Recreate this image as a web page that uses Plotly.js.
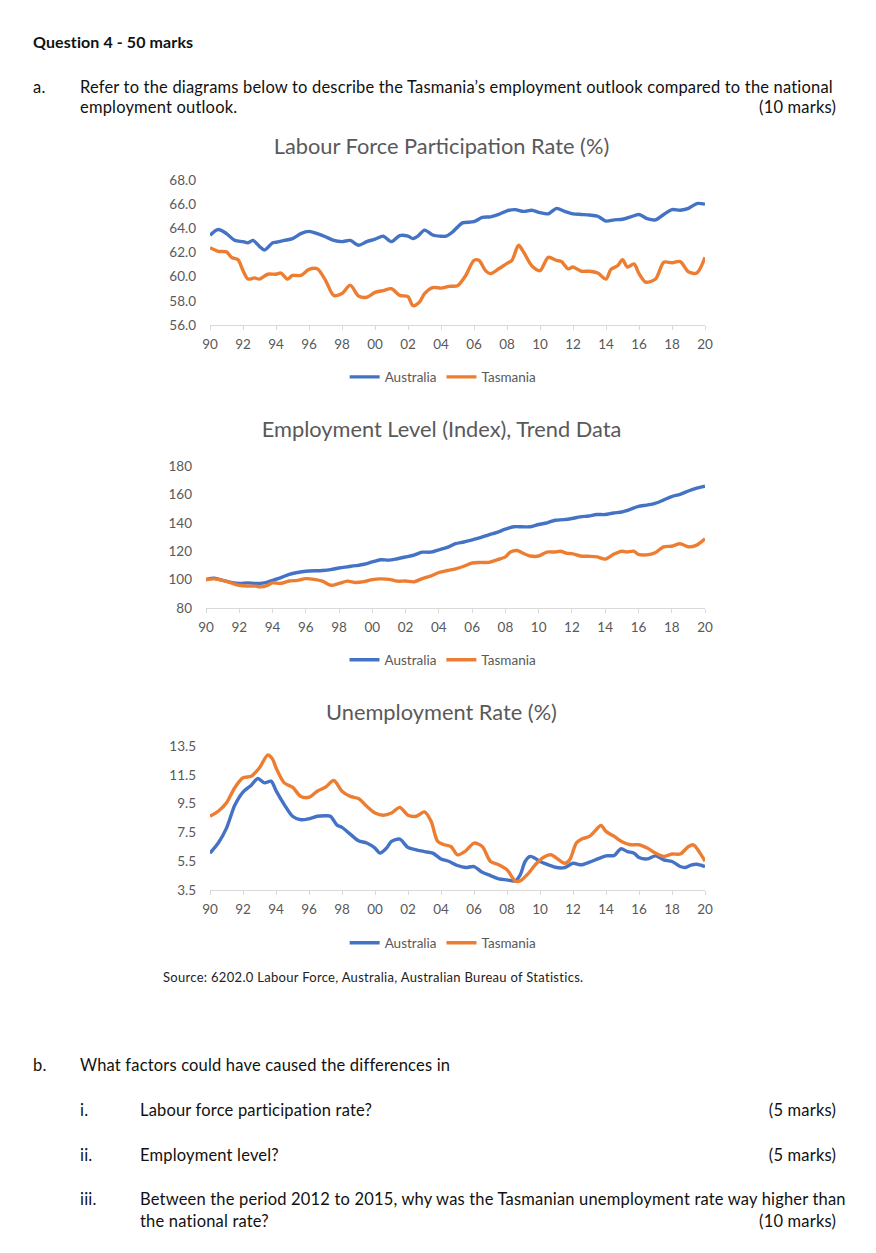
<!DOCTYPE html>
<html>
<head>
<meta charset="utf-8">
<script src="https://cdn.plot.ly/plotly-3.0.1.min.js"></script>
<style>
  html, body { margin:0; padding:0; background:#fff; }
  body { width:876px; height:1253px; position:relative; overflow:hidden; font-family: Lato, "Open Sans", sans-serif; color:#111; }
  .t { position:absolute; font-size:16.5px; letter-spacing:0.18px; line-height:20px; white-space:nowrap; }
  .r { text-align:right; }
  .chart { position:absolute; left:0; width:876px; }
</style>
</head>
<body>
<div class="t" style="left:33px; top:32px; font-weight:bold; font-size:16px; letter-spacing:0.1px;">Question 4 - 50 marks</div>
<div class="t" style="left:33px; top:77px;">a.</div>
<div class="t" style="left:80px; top:77px;">Refer to the diagrams below to describe the Tasmania’s employment outlook compared to the national</div>
<div class="t" style="left:80px; top:97px;">employment outlook.</div>
<div class="t r" style="right:40px; top:97px;">(10 marks)</div>

<div id="c1" class="chart" style="top:120px; height:280px;"></div>
<div id="c2" class="chart" style="top:400px; height:290px;"></div>
<div id="c3" class="chart" style="top:690px; height:270px;"></div>

<div class="t" style="left:163px; top:967px; font-size:13px; letter-spacing:0.3px; color:#222;">Source: 6202.0 Labour Force, Australia, Australian Bureau of Statistics.</div>

<div class="t" style="left:33px; top:1055px;">b.</div>
<div class="t" style="left:80px; top:1055px;">What factors could have caused the differences in</div>
<div class="t" style="left:80px; top:1100px;">i.</div>
<div class="t" style="left:140px; top:1100px;">Labour force participation rate?</div>
<div class="t r" style="right:40px; top:1100px;">(5 marks)</div>
<div class="t" style="left:80px; top:1145px;">ii.</div>
<div class="t" style="left:140px; top:1145px;">Employment level?</div>
<div class="t r" style="right:40px; top:1145px;">(5 marks)</div>
<div class="t" style="left:80px; top:1189px;">iii.</div>
<div class="t" style="left:140px; top:1189px;">Between the period 2012 to 2015, why was the Tasmanian unemployment rate way higher than</div>
<div class="t" style="left:140px; top:1211px;">the national rate?</div>
<div class="t r" style="right:40px; top:1211px;">(10 marks)</div>

<script>
// ---------- Tick labels ----------
const yearTicks = [1990,1992,1994,1996,1998,2000,2002,2004,2006,2008,2010,2012,2014,2016,2018,2020];
const yearTickText = ['90','92','94','96','98','00','02','04','06','08','10','12','14','16','18','20'];
const seriesNames = ['Australia','Tasmania'];

// ---------- Labour Force Participation Rate (%) ----------
const lfprAusYears = [1990,1990.5,1991,1991.5,1992,1992.3,1992.6,1993,1993.3,1993.8,1994,1994.5,1995,1995.5,1996,1996.5,1997,1997.5,1998,1998.5,1999,1999.5,2000,2000.5,2001,2001.5,2002,2002.3,2002.6,2003,2003.5,2004,2004.3,2004.7,2005,2005.3,2006,2006.5,2007,2007.5,2008,2008.5,2009,2009.5,2010,2010.5,2011,2011.5,2012,2012.5,2013,2013.5,2014,2014.5,2015,2015.5,2016,2016.5,2017,2017.5,2018,2018.5,2019,2019.5,2020];
const lfprAus = [63.43,63.9,63.56,63.0,62.9,62.8,63.0,62.5,62.2,62.8,62.85,63.0,63.15,63.56,63.75,63.56,63.3,63.0,62.9,63.0,62.6,62.9,63.1,63.35,62.9,63.4,63.35,63.15,63.35,63.85,63.45,63.35,63.35,63.7,64.1,64.45,64.55,64.9,64.95,65.15,65.45,65.55,65.4,65.5,65.3,65.2,65.65,65.4,65.2,65.15,65.1,65.0,64.6,64.7,64.75,64.95,65.15,64.8,64.7,65.15,65.55,65.5,65.65,66.05,66.0];
const lfprTasYears = [1990,1990.5,1991,1991.3,1991.7,1992,1992.3,1992.7,1993,1993.5,1994,1994.3,1994.7,1995,1995.5,1996,1996.5,1997,1997.5,1998,1998.5,1999,1999.5,2000,2000.5,2001,2001.5,2002,2002.3,2002.7,2003,2003.5,2004,2004.5,2005,2005.5,2006,2006.3,2006.7,2007,2007.5,2008,2008.3,2008.7,2009,2009.5,2010,2010.5,2011,2011.3,2011.7,2012,2012.5,2013,2013.5,2014,2014.3,2014.7,2015,2015.3,2015.7,2016,2016.4,2017,2017.5,2018,2018.5,2019,2019.5,2020];
const lfprTas = [62.4,62.1,62.05,61.6,61.4,60.5,59.8,59.9,59.8,60.2,60.2,60.3,59.8,60.1,60.1,60.6,60.65,59.7,58.45,58.6,59.3,58.4,58.3,58.7,58.85,59.0,58.45,58.35,57.6,57.9,58.6,59.1,59.05,59.2,59.25,60.1,61.35,61.35,60.5,60.25,60.65,61.1,61.35,62.6,62.05,60.9,60.5,61.6,61.35,61.25,60.65,60.8,60.45,60.45,60.3,59.8,60.6,60.9,61.4,60.8,61.05,60.25,59.55,59.8,61.2,61.15,61.25,60.4,60.3,61.6];
const lfprTicks = [56,58,60,62,64,66,68];

// ---------- Employment Level (Index), Trend Data ----------
const empAusYears = [1990,1990.5,1991,1991.5,1992,1992.5,1993,1993.5,1994,1994.5,1995,1995.5,1996,1997,1997.5,1998,1998.5,1999,1999.5,2000,2000.5,2001,2001.5,2002,2002.5,2003,2003.5,2004,2004.5,2005,2005.5,2006,2006.5,2007,2007.5,2008,2008.5,2009,2009.5,2010,2010.5,2011,2011.5,2012,2012.5,2013,2013.5,2014,2014.5,2015,2015.5,2016,2016.5,2017,2017.5,2018,2018.5,2019,2019.5,2020];
const empAus = [100,101,99.5,98,97.3,97.7,97.3,97.7,99.5,101.4,103.7,105,105.9,106.4,107,108.2,109,109.8,110.8,112.5,114,113.7,114.7,115.9,117.2,119.3,119.3,121,122.7,125.3,126.5,128,129.6,131.5,133.3,135.5,137.2,137.2,137.2,138.8,140,141.8,142.2,143,144.2,144.8,145.8,145.8,146.9,147.6,149.4,151.6,152.5,153.7,156,158.5,160,162.4,164.4,165.8];
const empTasYears = [1990,1990.5,1991,1991.5,1992,1992.5,1993,1993.3,1993.7,1994,1994.5,1995,1995.5,1996,1996.5,1997,1997.5,1998,1998.5,1999,1999.5,2000,2000.5,2001,2001.5,2002,2002.5,2003,2003.5,2004,2004.5,2005,2005.5,2006,2006.5,2007,2007.5,2008,2008.3,2008.7,2009,2009.5,2010,2010.5,2011,2011.3,2011.7,2012,2012.5,2013,2013.5,2014,2014.5,2015,2015.3,2015.7,2016,2016.5,2017,2017.5,2018,2018.5,2019,2019.5,2020];
const empTas = [100,100.5,99.5,97.7,96,95.4,95.4,94.9,96,97.7,97.3,99,99.5,100.7,100.2,98.9,96,97.3,98.9,98,98.6,100,100.5,100.2,98.9,99,98.4,100.7,102.5,105,106.4,107.6,109.4,111.7,112.1,112.1,113.9,116,119.4,120.5,118.9,116.6,116.6,119.4,119.4,120,118.5,118.3,116.6,116.4,116,114.4,117.8,120,119.4,120,117.8,117.4,118.9,123.1,123.5,125.2,123.1,124.3,128.8];
const empTicks = [80,100,120,140,160,180];

// ---------- Unemployment Rate (%) ----------
const unAusYears = [1990,1990.5,1991,1991.5,1992,1992.5,1992.9,1993.3,1993.7,1994,1994.5,1995,1995.5,1996,1996.5,1997,1997.3,1997.7,1998,1998.5,1999,1999.5,2000,2000.3,2000.7,2001,2001.5,2002,2002.5,2003,2003.5,2004,2004.5,2005,2005.5,2006,2006.5,2007,2007.5,2008,2008.5,2008.8,2009.1,2009.4,2009.7,2010,2010.5,2011,2011.5,2012,2012.5,2013,2013.5,2014,2014.5,2014.9,2015.3,2015.7,2016,2016.5,2017,2017.5,2018,2018.5,2018.8,2019.2,2019.5,2020];
const unAus = [6.06,6.76,7.8,9.38,10.3,10.78,11.24,10.94,11.06,10.4,9.43,8.62,8.38,8.45,8.62,8.66,8.62,8.0,7.85,7.38,6.92,6.76,6.41,6.06,6.41,6.87,7.03,6.45,6.29,6.17,6.06,5.66,5.48,5.2,5.06,5.13,4.73,4.5,4.27,4.2,4.13,4.55,5.48,5.83,5.71,5.48,5.25,5.06,5.06,5.36,5.25,5.43,5.66,5.87,5.9,6.36,6.17,6.06,5.76,5.66,5.87,5.59,5.48,5.13,5.06,5.25,5.29,5.13];
const unTasYears = [1990,1990.5,1991,1991.5,1992,1992.5,1993,1993.5,1993.8,1994,1994.5,1995,1995.5,1996,1996.5,1997,1997.5,1998,1998.5,1999,1999.5,2000,2000.5,2001,2001.5,2002,2002.5,2003,2003.4,2003.8,2004.2,2004.6,2005,2005.5,2006,2006.5,2007,2007.5,2008,2008.5,2008.8,2009.3,2009.8,2010.3,2010.7,2011,2011.5,2011.8,2012.2,2012.5,2013,2013.4,2013.7,2014,2014.5,2015,2015.5,2016,2016.5,2017,2017.5,2018,2018.5,2019,2019.3,2019.7,2020];
const unTas = [8.62,8.97,9.55,10.6,11.29,11.4,11.99,12.87,12.57,11.99,10.94,10.64,10.0,9.94,10.36,10.64,11.1,10.36,10.0,9.85,9.31,8.85,8.69,8.85,9.24,8.69,8.62,8.92,8.27,6.87,6.64,6.52,5.94,6.22,6.76,6.52,5.48,5.25,4.9,4.13,4.13,4.66,5.36,5.83,5.94,5.71,5.36,5.59,6.76,7.03,7.22,7.69,7.99,7.57,7.22,6.83,6.64,6.64,6.41,6.06,5.83,6.0,6.0,6.52,6.64,6.06,5.5];
const unTicks = [3.5,5.5,7.5,9.5,11.5,13.5];

// ---------- Styles ----------
const FONT = 'Lato, "Open Sans", sans-serif';
const GREY = '#595959';
const COLORS = ['#4472C4', '#ED7D31'];

function makeChart(id, title, titleY, ausX, ausY, tasX, tasY, ticks, fmt, margin, legendX, legendY) {
  const traces = [
    {x: ausX, y: ausY, name: seriesNames[0], type: 'scatter', mode: 'lines',
     line: {color: COLORS[0], width: 3.4, shape: 'spline', smoothing: 0.8}},
    {x: tasX, y: tasY, name: seriesNames[1], type: 'scatter', mode: 'lines',
     line: {color: COLORS[1], width: 3.4, shape: 'spline', smoothing: 0.8}}
  ];
  margin.autoexpand = false;
  const layout = {
    width: 876,
    height: document.getElementById(id).clientHeight,
    margin: margin,
    paper_bgcolor: '#ffffff',
    plot_bgcolor: '#ffffff',
    font: {family: FONT, color: GREY, size: 13.5},
    title: {text: title, font: {family: FONT, size: 21.8, color: GREY},
            x: 0.504, xref: 'container', xanchor: 'center',
            y: titleY, yref: 'container', yanchor: 'middle'},
    showlegend: true,
    legend: {orientation: 'h', x: legendX, y: legendY, xanchor: 'center', yanchor: 'middle',
             font: {family: FONT, size: 13.5, color: GREY}, itemwidth: 30, tracegroupgap: 0},
    xaxis: {range: [1990, 2020], tickmode: 'array', tickvals: yearTicks, ticktext: yearTickText,
            showgrid: false, zeroline: false, showline: true, linecolor: '#d9d9d9', linewidth: 1,
            ticks: 'outside', ticklen: 4, tickcolor: '#d9d9d9', ticklabelstandoff: 3,
            tickfont: {family: FONT, size: 13.5, color: GREY}, fixedrange: true},
    yaxis: {range: [ticks[0], ticks[ticks.length - 1]], tickmode: 'array', tickvals: ticks,
            tickformat: fmt, showgrid: false, zeroline: false, showline: false, ticks: '',
            ticklabelstandoff: 13, tickfont: {family: FONT, size: 13.5, color: GREY}, fixedrange: true}
  };
  Plotly.newPlot(id, traces, layout, {displayModeBar: false, staticPlot: true});
}

makeChart('c1', 'Labour Force Participation Rate (%)', 0.907,
  lfprAusYears, lfprAus, lfprTasYears, lfprTas, lfprTicks, '.1f',
  {l: 210, r: 171, t: 60, b: 75}, 0.471, -0.359);
makeChart('c2', 'Employment Level (Index), Trend Data', 0.9,
  empAusYears, empAus, empTasYears, empTas, empTicks, 'd',
  {l: 206, r: 171, t: 66, b: 82}, 0.475, -0.366);
makeChart('c3', 'Unemployment Rate (%)', 0.9185,
  unAusYears, unAus, unTasYears, unTas, unTicks, '.1f',
  {l: 210, r: 171, t: 56, b: 70}, 0.471, -0.368);
</script>
</body>
</html>
